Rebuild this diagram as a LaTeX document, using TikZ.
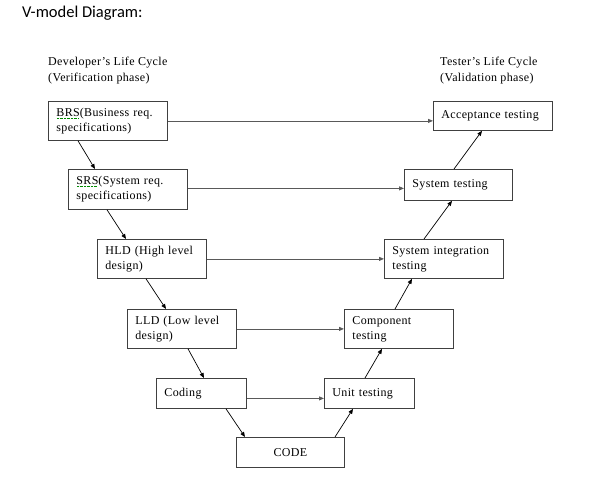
\documentclass[tikz,border=0pt]{standalone}
\usepackage{fontspec}
\setmainfont{Liberation Serif}[LetterSpace=3]
\newfontfamily\titlefont{Carlito}
\usetikzlibrary{arrows.meta,calc}
\newcommand\spellmark[1]{{\setbox0\hbox{#1}\rlap{\raisebox{-2.2pt}{\color{green!55!black}\leaders\hbox to 1.4pt{\hss\rule{0.7pt}{0.5pt}\hss}\hskip\wd0}}\box0}}
\begin{document}
\begin{tikzpicture}[x=1pt,y=-1pt,
  box/.style={draw=black!75, line width=0.8pt, anchor=north west, inner xsep=8pt, inner ysep=2pt,
     font=\fontsize{12}{15}\selectfont, align=left},
  hline/.style={draw=black!65, line width=0.8pt, -{Triangle[length=5pt,width=4pt]}},
  dline/.style={draw=black, line width=0.7pt, -{Triangle[length=5pt,width=4pt]}},
  hdr/.style={anchor=north west, inner sep=0pt, align=left, font=\fontsize{12}{16}\selectfont}]
\useasboundingbox (0,0) rectangle (592,482);
\fill[white] (0,0) rectangle (592,482);
\node[anchor=north west, inner sep=0pt, font=\titlefont\fontsize{16.5}{18}\selectfont] (title) at (22,6) {V-model Diagram:};
\node[hdr] (dev) at (48,57) {Developer's Life Cycle\\(Verification phase)};
\node[hdr] (tst) at (440,57) {Tester's Life Cycle\\(Validation phase)};
% left boxes
\node[box, minimum width=119pt, minimum height=39pt, text width=103pt] (brs) at (48,101)
  {\spellmark{BRS}(Business req.\\specifications)};
\node[box, minimum width=119pt, minimum height=40pt, text width=103pt] (srs) at (68,169)
  {\spellmark{SRS}(System req.\\specifications)};
\node[box, minimum width=109pt, minimum height=39pt, text width=93pt] (hld) at (97,239)
  {HLD (High level\\design)};
\node[box, minimum width=109pt, minimum height=39pt, text width=93pt] (lld) at (127,309)
  {LLD (Low level\\design)};
\node[box, minimum width=90pt, minimum height=30pt, text width=74pt] (cod) at (156,378)
  {Coding};
\node[box, minimum width=108pt, minimum height=30pt, text width=92pt, align=center] (code) at (236,437)
  {CODE};
% right boxes
\node[box, minimum width=90pt, minimum height=30pt, text width=74pt] (unit) at (324,378)
  {Unit testing};
\node[box, minimum width=109pt, minimum height=39pt, text width=93pt] (comp) at (344,309)
  {Component\\testing};
\node[box, minimum width=119pt, minimum height=39pt, text width=103pt] (sit) at (384,239)
  {System integration\\testing};
\node[box, minimum width=108pt, minimum height=31pt, text width=92pt] (st) at (404,169)
  {System testing};
\node[box, minimum width=119pt, minimum height=29pt, text width=103pt] (acc) at (433,101)
  {Acceptance testing};
% horizontal arrows
\draw[hline] (brs.east) -- (brs.east -| acc.west);
\draw[hline] ([yshift=1pt]srs.east) -- ([yshift=1pt]srs.east -| st.west);
\draw[hline] (hld.east) -- (hld.east -| sit.west);
\draw[hline] (lld.east) -- (lld.east -| comp.west);
\draw[hline] ([yshift=-5pt]cod.east) -- ([yshift=-5pt]cod.east -| unit.west);
% diagonal arrows down
\draw[dline] ([xshift=30pt]brs.south west) -- ([xshift=27pt]srs.north west);
\draw[dline] ([xshift=39pt]srs.south west) -- ([xshift=29pt]hld.north west);
\draw[dline] ([xshift=49pt]hld.south west) -- ([xshift=39pt]lld.north west);
\draw[dline] ([xshift=61pt]lld.south west) -- ([xshift=48pt]cod.north west);
\draw[dline] ([xshift=70pt]cod.south west) -- ([xshift=9pt]code.north west);
% diagonal arrows up
\draw[dline] ([xshift=99pt]code.north west) -- ([xshift=29pt]unit.south west);
\draw[dline] ([xshift=41pt]unit.north west) -- ([xshift=38pt]comp.south west);
\draw[dline] ([xshift=51pt]comp.north west) -- ([xshift=28pt]sit.south west);
\draw[dline] ([xshift=40pt]sit.north west) -- ([xshift=48pt]st.south west);
\draw[dline] ([xshift=50pt]st.north west) -- ([xshift=49pt]acc.south west);
\end{tikzpicture}
\end{document}
